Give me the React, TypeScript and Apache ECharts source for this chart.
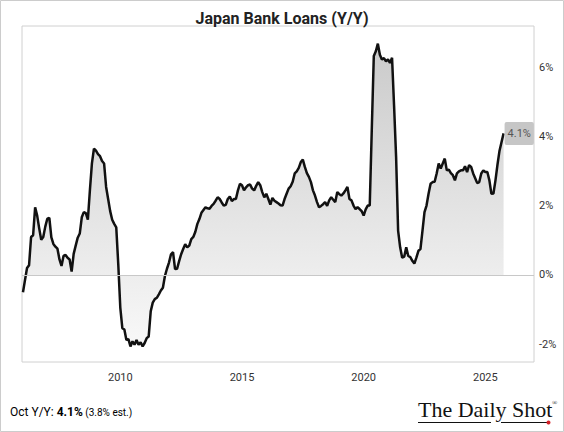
import React, { useEffect, useRef } from "react";
import * as echarts from "echarts";

const startYear = 2006;
const y2006 = [-0.5, -0.15, 0.2, 0.28, 1.1, 1.15, 1.96, 1.72, 1.35, 1.02, 1.1, 1.4];
const y2007 = [1.63, 1.65, 1.09, 0.9, 0.82, 0.76, 0.45, 0.26, 0.55, 0.58, 0.5, 0.45];
const y2008 = [0.1, 0.61, 0.85, 1.08, 1.2, 1.67, 1.82, 1.79, 1.6, 2.45, 3.23, 3.66];
const y2009 = [3.6, 3.5, 3.44, 3.3, 3.23, 2.55, 2.2, 1.85, 1.6, 1.48, 1.38, 0.3];
const y2010 = [-0.95, -1.54, -1.58, -1.88, -1.86, -2.07, -1.92, -2.02, -1.88, -2.02, -1.95, -2.07];
const y2011 = [-1.97, -1.83, -1.78, -1.05, -0.8, -0.7, -0.66, -0.56, -0.45, -0.37, -0.03, 0.18];
const y2012 = [0.36, 0.6, 0.66, 0.17, 0.18, 0.4, 0.6, 0.75, 0.89, 0.8, 0.85, 1.04];
const y2013 = [1.1, 1.25, 1.48, 1.62, 1.8, 1.88, 1.96, 1.93, 1.92, 2.0, 2.06, 2.15];
const y2014 = [2.25, 2.2, 2.1, 2.01, 2.03, 2.2, 2.27, 2.14, 2.2, 2.2, 2.45, 2.64];
const y2015 = [2.6, 2.45, 2.54, 2.6, 2.62, 2.5, 2.45, 2.58, 2.69, 2.6, 2.4, 2.25];
const y2016 = [2.35, 2.2, 2.04, 2.23, 2.15, 2.11, 2.07, 2.02, 2.01, 2.2, 2.35, 2.5];
const y2017 = [2.57, 2.7, 2.94, 3.0, 3.1, 3.27, 3.34, 3.13, 2.95, 2.84, 2.69, 2.45];
const y2018 = [2.3, 2.11, 1.96, 2.0, 2.05, 2.11, 2.0, 2.16, 2.25, 2.18, 2.11, 2.4];
const y2019 = [2.34, 2.3, 2.36, 2.45, 2.55, 2.2, 2.16, 2.01, 1.91, 1.96, 1.91, 1.85];
const y2020 = [1.72, 1.9, 2.01, 2.01, 4.2, 6.34, 6.48, 6.7, 6.38, 6.24, 6.28, 6.19];
const y2021 = [6.24, 6.14, 6.29, 4.9, 3.42, 1.28, 0.8, 0.5, 0.53, 0.8, 0.55, 0.52];
const y2022 = [0.41, 0.33, 0.5, 0.7, 0.75, 1.28, 1.82, 2.01, 2.35, 2.64, 2.69, 2.7];
const y2023 = [2.94, 3.23, 3.08, 3.23, 3.37, 3.03, 3.05, 2.95, 2.89, 2.74, 2.94, 3.0];
const y2024 = [3.03, 3.03, 3.15, 2.98, 3.18, 3.13, 2.94, 2.8, 2.66, 2.69, 2.94, 3.03];
const y2025 = [2.98, 2.98, 2.74, 2.35, 2.36, 2.74, 3.2, 3.6, 3.85, 4.1];

const yearly = [
  y2006, y2007, y2008, y2009, y2010, y2011, y2012, y2013, y2014, y2015,
  y2016, y2017, y2018, y2019, y2020, y2021, y2022, y2023, y2024, y2025,
];

const xTickLabels = [2010, 2015, 2020, 2025];
const yTickValues = [-2, 0, 2, 4, 6];
const lastLabel = "4.1%";
const footerMonth = "Oct Y/Y: ";
const footerValue = "4.1%";
const footerEst = " (3.8% est.)";

export default function App() {
  const ref = useRef<HTMLDivElement>(null);
  useEffect(() => {
    document.body.style.margin = "0";
    if (!ref.current) return;
    const chart = echarts.init(ref.current, undefined, { renderer: "svg" });
    const data: [number, number][] = [];
    yearly.forEach((arr, yi) => {
      arr.forEach((v, m) => data.push([startYear + yi + m / 12, v]));
    });
    const font = "Roboto";
    chart.setOption({
      animation: false,
      backgroundColor: "#ffffff",
      title: {
        text: "Japan Bank Loans (Y/Y)",
        left: "center",
        top: 5,
        textStyle: { fontFamily: font, fontWeight: "bold", fontSize: 16, color: "#222" },
      },
      grid: { left: 22, right: 30, top: 26, bottom: 70, show: true, borderColor: "#d0d0d0", borderWidth: 1 },
      xAxis: {
        type: "value",
        min: 2005.96,
        max: 2027.0,
        axisLine: { show: false },
        axisTick: { show: false },
        splitLine: { show: false },
        axisLabel: {
          customValues: xTickLabels,
          formatter: (v: number) => String(v),
          color: "#333",
          fontSize: 11,
          fontFamily: font,
          margin: 10,
        },
      },
      yAxis: {
        type: "value",
        position: "right",
        min: -2.52,
        max: 7.21,
        axisLine: { show: false },
        axisTick: { show: false },
        splitLine: { show: false },
        axisLabel: {
          customValues: yTickValues,
          formatter: (v: number) => `${v}%`,
          color: "#333",
          fontSize: 11,
          fontFamily: font,
          margin: 5,
        },
      },
      series: [
        {
          type: "line",
          data,
          symbol: "none",
          lineStyle: { color: "#111", width: 2.5 },
          areaStyle: {
            color: new echarts.graphic.LinearGradient(0, 26, 0, 362, [
              { offset: 0, color: "#b0b0b0" },
              { offset: 0.74, color: "#e6e6e6" },
              { offset: 1, color: "#f9f9f9" },
            ], true),
          },
          endLabel: {
            show: true,
            formatter: lastLabel,
            backgroundColor: "#c6c6c6",
            color: "#555",
            fontSize: 11,
            fontFamily: font,
            padding: [6, 3, 6, 3],
            borderRadius: 2,
            distance: 1,
          },
          markLine: {
            silent: true,
            symbol: ["none", "none"],
            label: { show: false },
            lineStyle: { color: "#c8c8c8", type: "solid", width: 1 },
            data: [{ yAxis: 0 }],
          },
        },
      ],
      graphic: [
        {
          type: "rect",
          shape: { x: 0.5, y: 0.5, width: 563, height: 431 },
          style: { fill: "none", stroke: "#cccccc", lineWidth: 1 },
          silent: true,
        },
        {
          type: "text",
          x: 10,
          y: 406,
          style: {
            text: `{a|${footerMonth}}{b|${footerValue}}{c|${footerEst}}`,
            rich: {
              a: { fontFamily: font, fontSize: 12, color: "#222" },
              b: { fontFamily: font, fontSize: 12, color: "#2eb84f", fontWeight: "bold" },
              c: { fontFamily: font, fontSize: 10, color: "#222" },
            },
          },
        },
        {
          type: "text",
          x: 418,
          y: 398,
          style: { text: "The Daily Shot", fontFamily: "Liberation Serif", fontSize: 22, fill: "#111" },
        },
        {
          type: "text",
          x: 552,
          y: 399,
          style: { text: "®", fontFamily: "Liberation Serif", fontSize: 7, fill: "#111" },
        },
        {
          type: "line",
          shape: { x1: 418, y1: 422.5, x2: 491, y2: 422.5 },
          style: { stroke: "#111", lineWidth: 1 },
        },
        {
          type: "line",
          shape: { x1: 501, y1: 422.5, x2: 548, y2: 422.5 },
          style: { stroke: "#111", lineWidth: 1 },
        },
        {
          type: "circle",
          shape: { cx: 548.5, cy: 422.5, r: 2 },
          style: { fill: "#d61f26" },
        },
      ],
    });
    return () => chart.dispose();
  }, []);
  return <div ref={ref} style={{ width: 564, height: 432 }} />;
}
